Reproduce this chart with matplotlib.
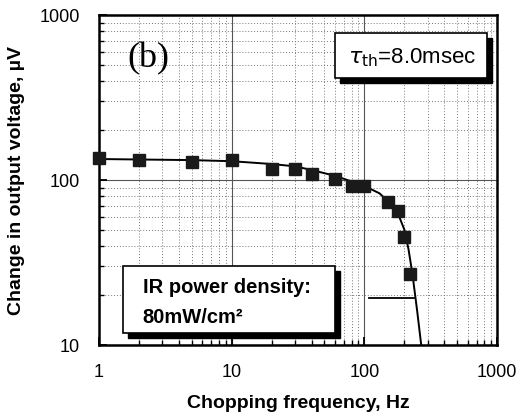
import matplotlib.pyplot as plt
from matplotlib.patches import Rectangle
from matplotlib.ticker import LogLocator, NullFormatter, FixedLocator

# measured points
freq = [1, 2, 5, 10, 20, 30, 40, 60, 80, 100, 150, 180, 200, 220]
volt = [135, 133, 128, 133, 117, 117, 109, 101, 92.5, 92.5, 74, 64.5, 45, 27]

# fitted curve
fit_freq = [1, 5, 10, 20, 30, 40, 60, 80, 100, 130, 160, 180, 200, 215, 230, 250, 268]
fit_volt = [134, 132, 130, 125, 121, 115, 106, 98, 92, 83, 71, 62, 50, 38, 27, 16, 10]

# short horizontal marker near 20 uV
mark_freq = [108, 236]
mark_volt = [19.2, 19.2]

plt.rcParams['font.family'] = ['Liberation Sans', 'DejaVu Sans']

fig = plt.figure(figsize=(5.19, 4.19), dpi=100)
ax = fig.add_axes([0.1908, 0.1766, 0.767, 0.7876])

ax.set_xscale('log')
ax.set_yscale('log')
ax.set_xlim(1, 1000)
ax.set_ylim(10, 1000)

ax.grid(True, which='major', color='#555555', linewidth=0.8, linestyle='-')
ax.grid(True, which='minor', color='#777777', linewidth=0.7, linestyle=(0, (1, 2)))

ax.plot(fit_freq, fit_volt, color='black', linewidth=1.4, zorder=3)
ax.plot(freq, volt, linestyle='none', marker='s', markersize=8,
        color='#1a1a1a', zorder=4, clip_on=False)
ax.plot(mark_freq, mark_volt, color='black', linewidth=1.3, zorder=3)

ax.xaxis.set_major_locator(FixedLocator([1, 10, 100, 1000]))
ax.yaxis.set_major_locator(FixedLocator([10, 100, 1000]))
ax.xaxis.set_minor_locator(LogLocator(base=10, subs=range(2, 10)))
ax.yaxis.set_minor_locator(LogLocator(base=10, subs=range(2, 10)))
ax.xaxis.set_minor_formatter(NullFormatter())
ax.yaxis.set_minor_formatter(NullFormatter())
ax.set_xticklabels(['1', '10', '100', '1000'])
ax.set_yticklabels(['10', '100', '1000'])

ax.tick_params(axis='x', which='major', pad=14)
ax.tick_params(axis='y', which='major', pad=14)
ax.tick_params(which='major', direction='in', length=6, width=1.3, labelsize=13,
               top=False, right=False)
ax.tick_params(which='minor', direction='in', length=3.5, width=1.0,
               top=False, right=False)
for s in ax.spines.values():
    s.set_linewidth(1.8)

ax.set_xlabel('Chopping frequency, Hz', fontsize=14, fontweight='bold', labelpad=10)
ax.set_ylabel('Change in output voltage, \u00b5V', fontsize=14, fontweight='bold', labelpad=10)

ax.text(0.123, 0.867, '(b)', transform=ax.transAxes, fontsize=26,
        family='Liberation Serif', ha='center', va='center', zorder=6)


def shadow_box(x0, y0, x1, y1, dx=0.012, dy=0.015):
    ax.add_patch(Rectangle((x0 + dx, y0 - dy), x1 - x0, y1 - y0, transform=ax.transAxes,
                           facecolor='black', edgecolor='black', zorder=6))
    ax.add_patch(Rectangle((x0, y0), x1 - x0, y1 - y0, transform=ax.transAxes,
                           facecolor='white', edgecolor='black', linewidth=1.2, zorder=7))


shadow_box(0.593, 0.809, 0.975, 0.945)
ax.text(0.625, 0.872, r'$\tau_{\rm th}$=8.0msec', transform=ax.transAxes, fontsize=16,
        ha='left', va='center', zorder=8)

shadow_box(0.060, 0.036, 0.593, 0.239)
ax.text(0.110, 0.175, 'IR power density:', transform=ax.transAxes,
        fontsize=14.5, fontweight='bold', ha='left', va='center', zorder=8)
ax.text(0.110, 0.082, '80mW/cm\u00b2', transform=ax.transAxes,
        fontsize=14.5, fontweight='bold', ha='left', va='center', zorder=8)

fig.savefig('out.png', dpi=100)
